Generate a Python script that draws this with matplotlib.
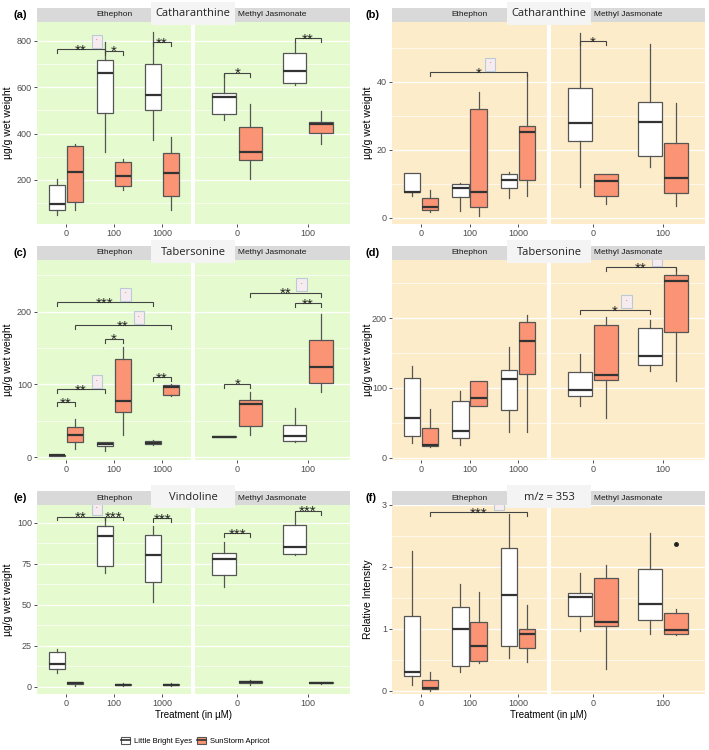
import matplotlib
matplotlib.use('Agg')
import matplotlib.pyplot as plt
from matplotlib.patches import Patch, Rectangle
from matplotlib.lines import Line2D
from matplotlib.ticker import MultipleLocator

plt.rcParams['font.family'] = ['Liberation Sans', 'DejaVu Sans']

# treatments / facets
facets = ['Ethephon', 'Methyl Jasmonate']
eth_doses = ['0', '100', '1000']
mj_doses = ['0', '100']
cultivars = ['Little Bright Eyes', 'SunStorm Apricot']

# box stats (whislo, q1, med, q3, whishi) for E0, E100, E1000, MJ0, MJ100
a_lbe = [(51, 71, 97, 179, 204), (321, 491, 661, 718, 794), (371, 503, 569, 701, 840),
         (460, 486, 559, 576, 658), (612, 619, 669, 747, 794)]
a_ssa = [(72, 107, 236, 346, 354), (158, 174, 216, 278, 290), (70, 130, 229, 315, 387),
         (203, 286, 322, 428, 529), (357, 402, 440, 451, 497)]

b_lbe = [(6.5, 7.5, 7.7, 13.2, 13.2), (2.0, 6.1, 8.8, 10.1, 10.3), (5.9, 8.7, 11.2, 13.0, 13.4),
         (9.1, 22.7, 27.8, 38.3, 54.5), (14.9, 18.3, 28.3, 34.0, 51.2)]
b_ssa = [(1.8, 2.4, 3.3, 5.8, 8.1), (0.5, 3.2, 7.7, 32.1, 37.0), (6.4, 11.1, 25.2, 26.9, 42.2),
         (4.0, 6.3, 10.9, 12.9, 12.9), (3.6, 7.3, 11.6, 22.0, 33.9)]

c_lbe = [(1.5, 2, 2.5, 3.5, 4), (8, 15, 18, 21, 21), (16, 18, 19.5, 22, 23),
         (27, 27.5, 28, 28.5, 29), (21, 22.7, 29.5, 43.6, 68)]
c_ssa = [(11, 20.5, 30, 41, 52), (30, 62, 77, 135, 151), (84, 86, 96, 99, 100),
         (31, 43, 73.6, 78.6, 90), (89, 102, 124, 161, 197)]

d_lbe = [(21.7, 31, 56.6, 113.7, 131.6), (18, 29, 38.7, 82, 95), (37.7, 68, 112.7, 125.5, 158.5),
         (73.6, 88.7, 97.6, 122.6, 148), (124.5, 133, 146, 185.8, 197.6)]
d_ssa = [(16, 17, 18, 43.4, 70), (74.5, 74.5, 86, 109.4, 109.4), (37.7, 120, 166.5, 194, 205),
         (57, 111, 118, 189.6, 202), (109.4, 179.7, 252.8, 261, 271.7)]

e_lbe = [(8.5, 11, 13.8, 21.1, 23.2), (69.5, 73.6, 92, 98.4, 103), (51.6, 64.2, 80.7, 92.9, 98),
         (61, 68.5, 78.3, 81.7, 88.6), (80.3, 81.1, 85.2, 98.8, 104.5)]
e_ssa = [(0.5, 1.5, 2, 2.8, 3), (0.5, 1, 1.2, 1.6, 2), (0.5, 0.8, 1.2, 1.8, 2.2),
         (1.2, 2, 2.8, 3.6, 4), (1.8, 2, 2.3, 2.8, 3)]

f_lbe = [(0.1, 0.24, 0.3, 1.21, 2.25), (0.3, 0.4, 1.0, 1.36, 1.73), (0.53, 0.73, 1.55, 2.31, 2.86),
         (0.97, 1.21, 1.52, 1.58, 1.9), (0.92, 1.15, 1.4, 1.96, 2.55)]
f_ssa = [(0.0, 0.03, 0.05, 0.17, 0.3), (0.45, 0.49, 0.73, 1.11, 1.6), (0.47, 0.7, 0.92, 1.0, 1.39),
         (0.35, 1.05, 1.11, 1.83, 2.03), (0.9, 0.92, 0.99, 1.25, 1.32)]
f_ssa_outliers = [[], [], [], [], [2.37]]

# significance brackets: (facet, dose1, cultivar1, dose2, cultivar2, height, stars, icon)
a_sig = [(0, 1, 0, 2, 0, 764, '**', True), (0, 2, 0, 2, 1, 758, '*', False),
         (0, 3, 0, 3, 1, 794, '**', False), (1, 1, 0, 1, 1, 664, '*', False),
         (1, 2, 0, 2, 1, 811, '**', False)]
b_sig = [(0, 1, 1, 3, 1, 42.8, '*', True), (1, 1, 0, 1, 1, 52, '*', False)]
c_sig = [(0, 1, 0, 3, 0, 212.7, '***', True), (0, 1, 1, 3, 1, 181, '**', True),
         (0, 2, 0, 2, 1, 163, '*', False), (0, 1, 0, 2, 0, 93, '**', True),
         (0, 1, 0, 1, 1, 76, '**', False), (0, 3, 0, 3, 1, 110, '**', False),
         (1, 1, 0, 1, 1, 101, '*', False), (1, 1, 1, 2, 1, 226, '**', True),
         (1, 2, 0, 2, 1, 212, '**', False)]
d_sig = [(1, 1, 0, 2, 0, 211.8, '*', True), (1, 1, 1, 2, 1, 273, '**', True)]
e_sig = [(0, 1, 0, 2, 0, 103.9, '**', True), (0, 2, 0, 2, 1, 103.9, '***', False),
         (0, 3, 0, 3, 1, 103, '***', False), (1, 1, 0, 1, 1, 93.7, '***', False),
         (1, 2, 0, 2, 1, 107.5, '***', False)]
f_sig = [(0, 1, 1, 3, 1, 2.89, '***', True)]

# ---- layout (pixels) ----
W, H = 709, 750
GREEN = '#e5fbcf'
PEACH = '#fdecc9'
SALMON = '#fa9474'
EDGE = '#555555'


def rect(x0, y0, x1, y1):
    return [x0 / W, 1 - y1 / H, (x1 - x0) / W, (y1 - y0) / H]


cols = [(37, 191, 195, 350), (392, 547, 551, 705)]
rows = [(8, 22, 224), (246, 260, 460), (491, 505, 694)]

panels = [
    ('(a)', 'Catharanthine', a_lbe, a_ssa, None, a_sig, (10, 882), 200, 100, 'µg/g wet weight', 0, 0, GREEN),
    ('(b)', 'Catharanthine', b_lbe, b_ssa, None, b_sig, (-1.8, 57.6), 20, 10, 'µg/g wet weight', 1, 0, PEACH),
    ('(c)', 'Tabersonine', c_lbe, c_ssa, None, c_sig, (-4, 271), 100, 50, 'µg/g wet weight', 0, 1, GREEN),
    ('(d)', 'Tabersonine', d_lbe, d_ssa, None, d_sig, (-3, 283), 100, 50, 'µg/g wet weight', 1, 1, PEACH),
    ('(e)', 'Vindoline', e_lbe, e_ssa, None, e_sig, (-4.5, 111), 25, 12.5, 'µg/g wet weight', 0, 2, GREEN),
    ('(f)', 'm/z = 353', f_lbe, f_ssa, f_ssa_outliers, f_sig, (-0.05, 3.0), 1, 0.5, 'Relative Intensity', 1, 2, PEACH),
]

fig = plt.figure(figsize=(W / 100, H / 100), dpi=100)

for tag, title, lbe, ssa, ssa_out, sig, ylim, major, minor, ylab, ci, ri, bg in panels:
    xl0, xl1, xr0, xr1 = cols[ci]
    ys0, yp0, yp1 = rows[ri]
    axes = []
    for fi, (x0, x1) in enumerate([(xl0, xl1), (xr0, xr1)]):
        ax = fig.add_axes(rect(x0, yp0, x1, yp1))
        ax.set_facecolor(bg)
        for s in ax.spines.values():
            s.set_visible(False)
        doses = eth_doses if fi == 0 else mj_doses
        n = len(doses)
        idx = range(0, 3) if fi == 0 else range(3, 5)
        for k, (stats, col) in enumerate([(lbe, 'white'), (ssa, SALMON)]):
            bx = []
            for i in idx:
                s = stats[i]
                fl = ssa_out[i] if (k == 1 and ssa_out is not None) else []
                bx.append(dict(whislo=s[0], q1=s[1], med=s[2], q3=s[3], whishi=s[4], fliers=fl))
            pos = [j + 1 + (k - 0.5) * 0.375 for j in range(n)]
            ax.bxp(bx, positions=pos, widths=0.34, patch_artist=True, showcaps=False,
                   boxprops=dict(facecolor=col, edgecolor=EDGE, linewidth=0.9),
                   medianprops=dict(color='#333333', linewidth=1.6),
                   whiskerprops=dict(color=EDGE, linewidth=0.9),
                   flierprops=dict(marker='o', markersize=2.5, markerfacecolor='#222222',
                                   markeredgecolor='#222222'),
                   manage_ticks=False)
        ax.set_xlim(0.4, n + 0.6)
        ax.set_ylim(*ylim)
        ax.set_xticks(range(1, n + 1))
        ax.set_xticklabels(doses)
        ax.yaxis.set_major_locator(MultipleLocator(major))
        ax.yaxis.set_minor_locator(MultipleLocator(minor))
        ax.set_axisbelow(True)
        ax.grid(axis='y', which='major', color='white', linewidth=0.9)
        ax.grid(axis='y', which='minor', color='white', linewidth=0.45)
        ax.tick_params(axis='both', which='major', length=2.5, width=0.6, color='#333333',
                       labelcolor='#4d4d4d', labelsize=6.5, pad=1.2)
        ax.tick_params(axis='y', which='minor', length=0)
        if fi == 1:
            ax.tick_params(axis='y', left=False, labelleft=False)
        # strip
        sx = fig.add_axes(rect(x0, ys0, x1, yp0))
        sx.set_facecolor('#d9d9d9')
        sx.set_xticks([])
        sx.set_yticks([])
        for s in sx.spines.values():
            s.set_visible(False)
        sx.text(0.5, 0.5, facets[fi], ha='center', va='center', fontsize=6, color='#1a1a1a',
                transform=sx.transAxes)
        axes.append(ax)

    # significance brackets
    tip = 0.02 * (ylim[1] - ylim[0])
    for fi, g1, c1, g2, c2, y, stars, icon in sig:
        ax = axes[fi]
        x1 = g1 + (c1 - 0.5) * 0.375
        x2 = g2 + (c2 - 0.5) * 0.375
        ax.plot([x1, x1, x2, x2], [y - tip, y, y, y - tip], color='#444444', lw=0.8,
                solid_joinstyle='miter')
        xm = (x1 + x2) / 2
        ax.annotate(stars, xy=(xm, y), xytext=(0, -5.5), textcoords='offset pixels',
                    ha='center', va='baseline', fontsize=11, color='#222222')
        if icon:
            ax.annotate('•', xy=(xm, y), xytext=(7 + 4.5 * len(stars), 8), textcoords='offset pixels',
                        ha='center', va='center', fontsize=3, color='#e0707a',
                        bbox=dict(boxstyle='square,pad=1.1', fc='#f6ecef', ec='#bccad8', lw=0.8))

    # floating title box
    cx = (xl1 + xr0) / 2
    fig.add_artist(Rectangle(((cx - 42) / W, 1 - (ys0 + 17) / H), 84 / W, 23 / H,
                             transform=fig.transFigure, facecolor='#f4f4f4', edgecolor='none'))
    fig.text(cx / W, 1 - (ys0 + 6) / H, title, ha='center', va='center', fontsize=8,
             family='Open Sans', color='#222222')

    # panel tag, y label, x label
    fig.text((13 if ci == 0 else 365) / W, 1 - (ys0 + 7) / H, tag, ha='left', va='center',
             fontsize=8, fontweight='bold')
    fig.text((8 if ci == 0 else 368) / W, 1 - ((yp0 + yp1) / 2) / H, ylab, rotation=90,
             ha='center', va='center', fontsize=7.5)
    if ri == 2:
        fig.text(((xl0 + xr1) / 2) / W, 1 - 715 / H, 'Treatment (in µM)', ha='center',
                 va='center', fontsize=7)

handles = [(Patch(facecolor='white', edgecolor=EDGE, linewidth=0.8),
            Line2D([], [], color='#333333', lw=1.2)),
           (Patch(facecolor=SALMON, edgecolor=EDGE, linewidth=0.8),
            Line2D([], [], color='#333333', lw=1.2))]
fig.legend(handles, cultivars, loc='center', bbox_to_anchor=(195 / W, 1 - 741 / H), ncol=2,
           frameon=False, fontsize=5.5, handlelength=1.2, handleheight=1.0,
           columnspacing=0.6, handletextpad=0.5)

fig.savefig('out.png', dpi=100)
